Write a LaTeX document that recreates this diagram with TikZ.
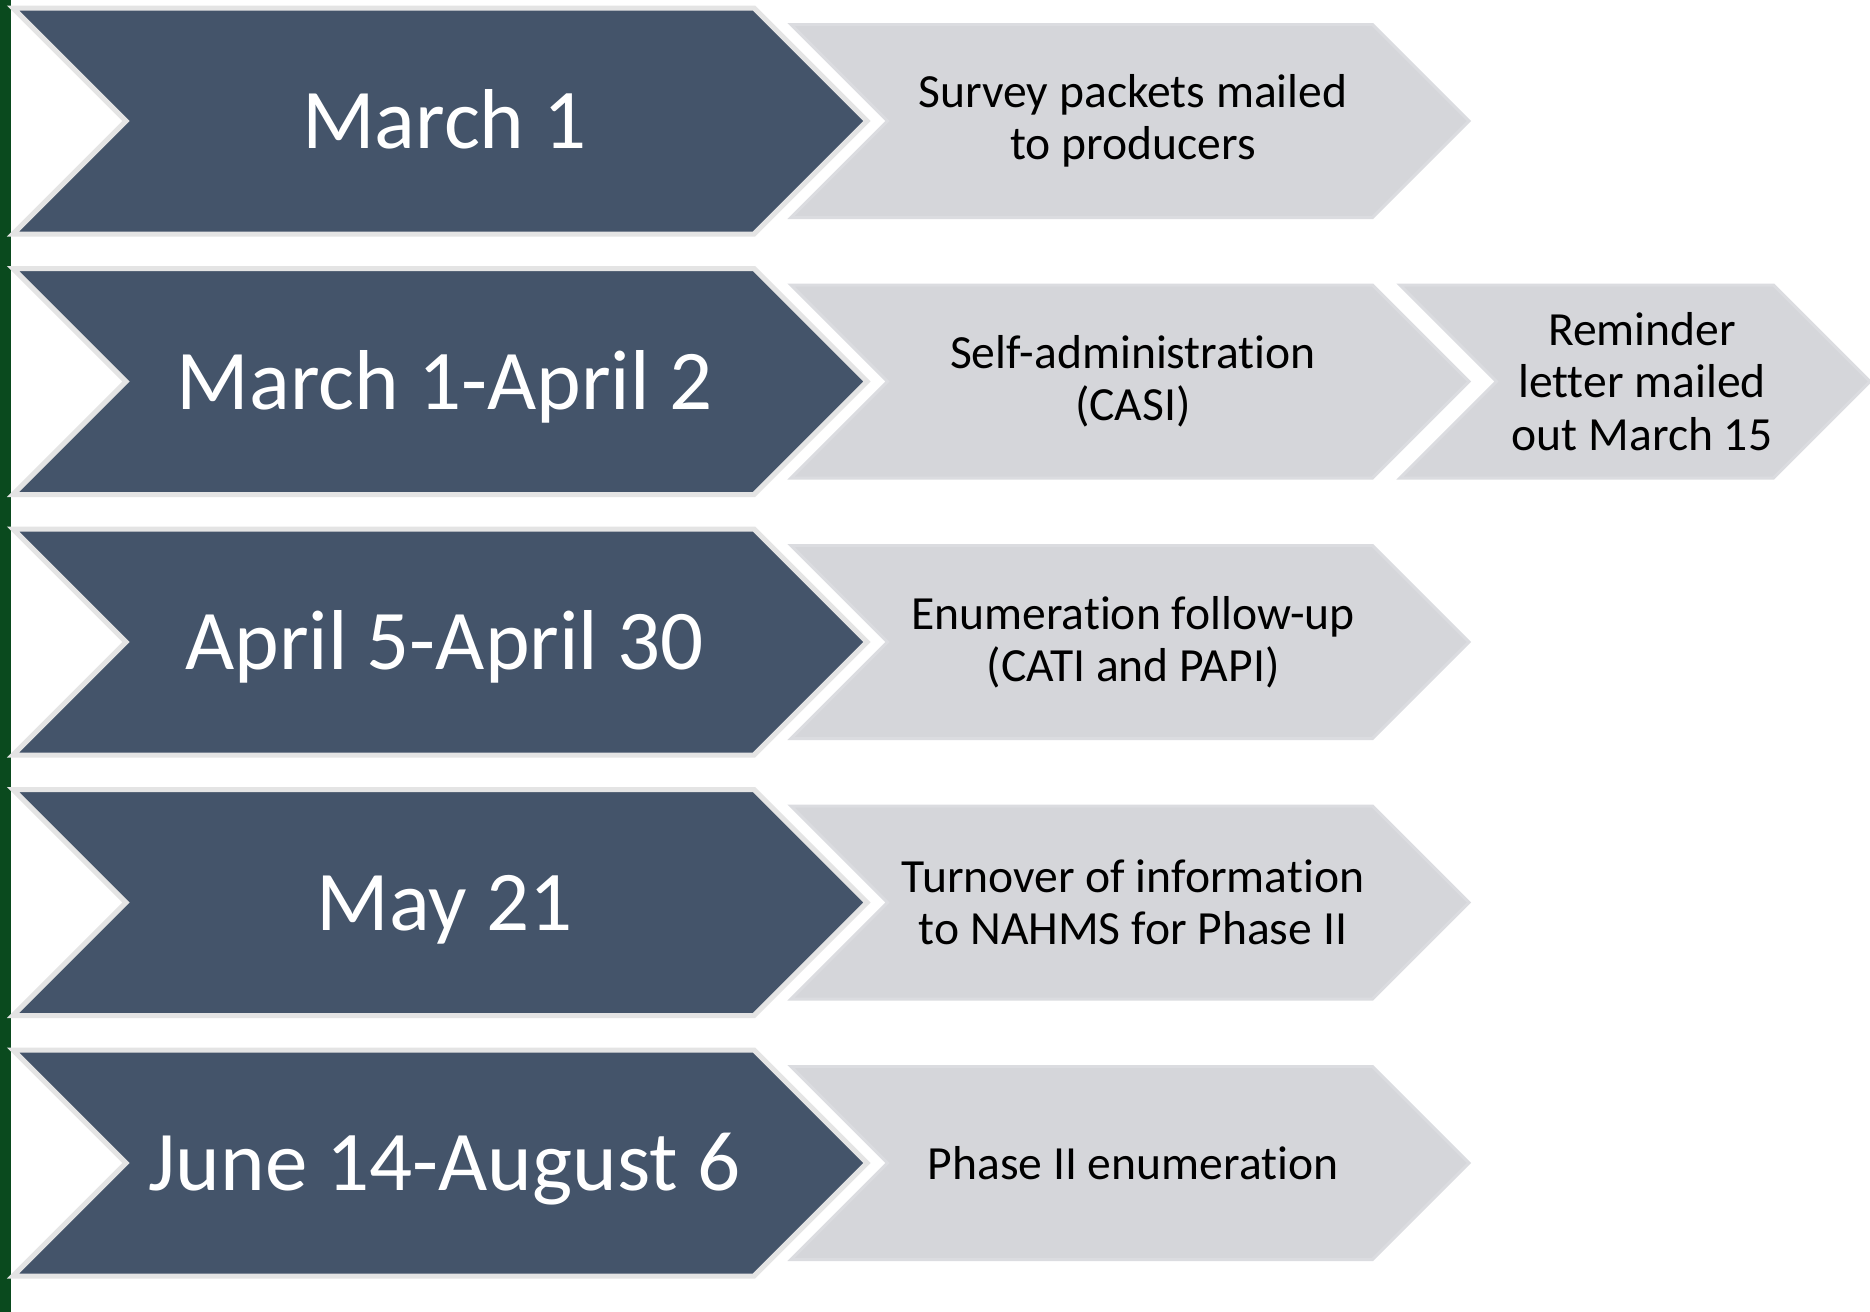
\documentclass[tikz,border=0pt]{standalone}
\usepackage{fontspec}
\setmainfont{Carlito}[Ligatures=NoCommon]
\definecolor{darkslate}{HTML}{44546A}
\definecolor{lightgrey}{HTML}{D5D6DA}
\definecolor{barGreen}{HTML}{0A4A1E}
\definecolor{edgeGrey}{HTML}{E4E4E4}
\newcommand{\chevshape}[5]{%
  \pgfmathsetmacro\hh{#5/2}%
  \path[#1] ({#2},{#3-\hh}) -- ({#2+#4-\hh},{#3-\hh}) -- ({#2+#4},{#3})
    -- ({#2+#4-\hh},{#3+\hh}) -- ({#2},{#3+\hh}) -- ({#2+\hh},{#3}) -- cycle;}
\begin{document}
\begin{tikzpicture}[x=0.5pt,y=-0.5pt,
  darkchev/.style={fill=darkslate,draw=edgeGrey,line width=2.5},
  lightchev/.style={fill=lightgrey,draw=lightgrey!85!white,line width=1.5},
  datetext/.style={text=white,font={\fontsize{42.5}{46}\selectfont},anchor=base,inner sep=0pt},
  steptext/.style={text=black,font={\fontsize{23.8}{26.2}\selectfont},align=center,anchor=center,inner sep=0pt}]
\useasboundingbox (0,0) rectangle (1870,1312);
\fill[white] (0,0) rectangle (1870,1312);
\fill[barGreen] (0,0) rectangle (11,1312);
% rows
\foreach \yc in {121,381.5,642,902.5,1163}{
  \chevshape{darkchev}{13}{\yc}{854}{226}
  \chevshape{lightchev}{791}{\yc}{678}{193}
}
\chevshape{lightchev}{1400}{381.5}{470}{193}
% date labels
\node[datetext] (d1) at (444.5,148.5) {March 1};
\node[datetext] (d2) at (444.5,409) {March 1-April 2};
\node[datetext] (d3) at (444.5,669.5) {April 5-April 30};
\node[datetext] (d4) at (444.5,930) {May 21};
\node[datetext] (d5) at (444.5,1190.5) {June 14-August 6};
% step labels
\node[steptext] (s1) at (1133,121) {Survey packets mailed\\to producers};
\node[steptext] (s2) at (1133,381.5) {Self-administration\\(CASI)};
\node[steptext] (s2b) at (1642,381.5) {Reminder\\letter mailed\\out March 15};
\node[steptext] (s3) at (1133,642) {Enumeration follow-up\\(CATI and PAPI)};
\node[steptext] (s4) at (1133,902.5) {Turnover of information\\to NAHMS for Phase II};
\node[steptext] (s5) at (1133,1163) {Phase II enumeration};
\end{tikzpicture}
\end{document}
